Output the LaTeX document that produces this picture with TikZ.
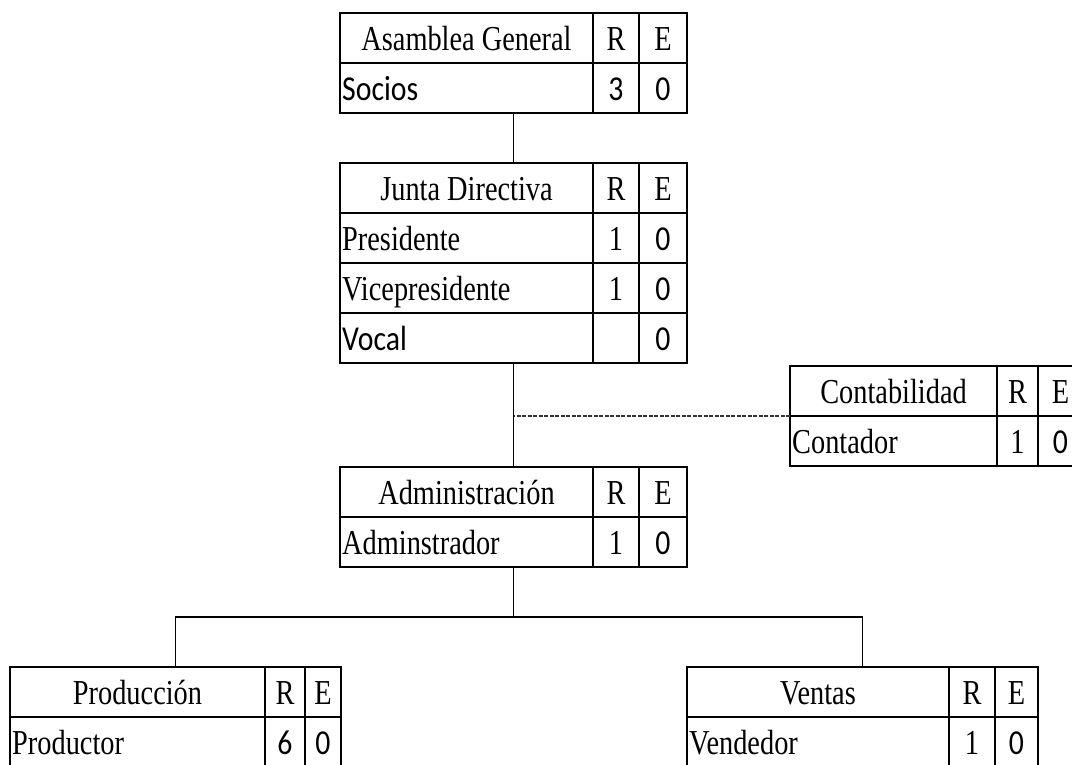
\documentclass[tikz,border=0pt]{standalone}
\usepackage{fontspec}
\setmainfont{Liberation Serif}[FakeStretch=0.81]
\newfontfamily\narrowsans{Carlito}[FakeStretch=0.85]
\usepackage{tikz}
\usetikzlibrary{positioning,calc}

\newcommand{\sfn}[1]{{\narrowsans #1}}
\newcommand{\boxfont}{\fontsize{35}{38}\selectfont}

% #1 name, #2 top left corner, #3-#5 column widths, #6 title, #7 rows
\newcommand{\unitbox}[7]{%
  \node[cell, minimum width=#3, anchor=north west] (#1-0) at (#2) {#6};
  \node[cell, minimum width=#4, right=0pt of #1-0] (#1-0-r) {R};
  \node[cell, minimum width=#5, right=0pt of #1-0-r] (#1-0-e) {E};
  \coordinate (#1-top) at ($(#1-0.north west)!0.5!(#1-0-e.north east)$);
  \foreach \lab/\rv/\ev [count=\i, remember=\i as \j (initially 0)] in {#7} {
    \node[cell, minimum width=#3, below=0pt of #1-\j,
      label={[rowtext]west:\lab}] (#1-\i) {};
    \node[cell, minimum width=#4, right=0pt of #1-\i] (#1-\i-r) {\rv};
    \node[cell, minimum width=#5, right=0pt of #1-\i-r] (#1-\i-e) {\ev};
    \coordinate (#1-bot) at ($(#1-\i.south west)!0.5!(#1-\i-e.south east)$);
  }%
}

\begin{document}
\begin{tikzpicture}[x=1pt, y=-1pt,
    every node/.style={font=\boxfont},
    cell/.style={draw, line width=1.4pt, minimum height=50pt, inner sep=0pt, outer sep=0pt,
      text height=24pt, text depth=0pt},
    rowtext/.style={anchor=west, inner xsep=2pt, inner ysep=0pt, text height=24pt, text depth=0pt},
    link/.style={line width=1.4pt}]
  \useasboundingbox (0,0) rectangle (1072,764);
  \clip (0,0) rectangle (1072,764);

  \unitbox{ag}{340,13}{253pt}{46pt}{48pt}{Asamblea General}
    {\sfn{Socios}/\sfn{3}/\sfn{0}}
  \unitbox{jd}{340,163}{253pt}{46pt}{48pt}{Junta Directiva}
    {Presidente/1/\sfn{0}, Vicepresidente/1/\sfn{0}, \sfn{Vocal}/{}/\sfn{0}}
  \unitbox{cont}{790,366}{207pt}{41pt}{45pt}{Contabilidad}
    {Contador/1/\sfn{0}}
  \unitbox{adm}{340,467}{253pt}{46pt}{48pt}{Administración}
    {Adminstrador/1/\sfn{0}}
  \unitbox{prod}{10,667}{255pt}{40pt}{36pt}{Producción}
    {Productor/\sfn{6}/\sfn{0}}
  \unitbox{vent}{687,667}{262pt}{46pt}{43pt}{Ventas}
    {Vendedor/1/\sfn{0}}

  \draw[link] (ag-bot) -- (jd-top);
  \draw[link] (jd-bot) -- (adm-top);
  \draw[link, dash pattern=on 4pt off 1.5pt, black!80] (cont-1.north west) -- (jd-bot |- cont-1.north west);
  \coordinate (fork) at ($(adm-bot)+(0,50)$);
  \draw[link] (adm-bot) -- (fork);
  \draw[link] (prod-top) |- (fork) -| (vent-top);
\end{tikzpicture}
\end{document}
